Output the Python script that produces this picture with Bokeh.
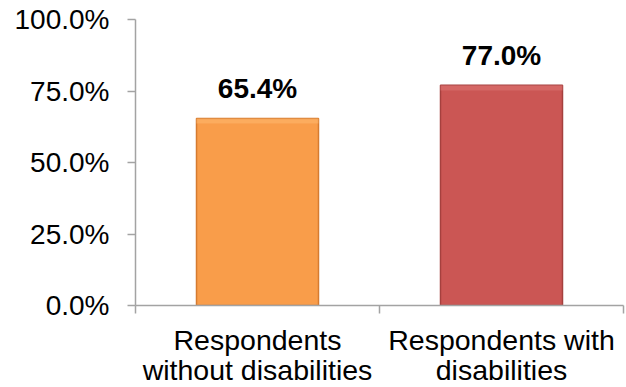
from bokeh.plotting import figure
from bokeh.models import Range1d, FixedTicker, NumeralTickFormatter, ColumnDataSource, LinearAxis
from bokeh.core.properties import value
from bokeh.embed import file_html
from bokeh.resources import INLINE

# Share of respondents, by group
categories = ["Respondents\nwithout disabilities", "Respondents with\ndisabilities"]
shares = [0.654, 0.770]
share_labels = ["65.4%", "77.0%"]
y_ticks = [0.0, 0.25, 0.5, 0.75, 1.0]

fill_colors = ["#F99D4A", "#CB5654"]
edge_colors = ["#D67B30", "#A5403E"]
light_colors = ["#FDB56C", "#DC7371"]

FONT = "Liberation Sans"
GRID = "#A3A3A3"

xs = [i + 0.5 for i in range(len(categories))]
bar_w = 0.5
label_lines = [c.split("\n") for c in categories]

src = ColumnDataSource(dict(
    x=xs, top=shares, label=share_labels,
    fill=fill_colors, edge=edge_colors, light=light_colors,
    left=[x - bar_w / 2 for x in xs], right=[x + bar_w / 2 for x in xs],
    hl_bottom=[s - 0.018 for s in shares],
))

p = figure(frame_width=488, frame_height=286, output_backend="svg", toolbar_location=None,
           x_range=Range1d(0, len(categories)), y_range=Range1d(0, 1),
           min_border_left=135, min_border_right=3, min_border_top=19, min_border_bottom=0,
           x_axis_type=None, y_axis_type=None)
p.outline_line_color = None
p.background_fill_color = "white"
p.border_fill_color = "white"

# y axis with percentage labels
yax = LinearAxis(ticker=FixedTicker(ticks=y_ticks, minor_ticks=[]),
                 formatter=NumeralTickFormatter(format="0.0%"))
yax.axis_line_color = GRID
yax.axis_line_width = 1.5
yax.major_tick_line_color = GRID
yax.major_tick_line_width = 1.5
yax.major_tick_out = 8
yax.major_tick_in = 0
yax.major_label_standoff = 18
yax.major_label_text_font = FONT
yax.major_label_text_font_size = "28px"
yax.major_label_text_color = "black"
p.add_layout(yax, "left")

# x axis, first label line: tick marks at category boundaries
xax = LinearAxis(ticker=FixedTicker(ticks=xs, minor_ticks=list(range(len(categories) + 1))))
xax.major_label_overrides = {x: ln[0] for x, ln in zip(xs, label_lines)}
xax.axis_line_color = GRID
xax.axis_line_width = 1.5
xax.major_tick_line_color = None
xax.minor_tick_line_color = GRID
xax.minor_tick_line_width = 1.5
xax.minor_tick_out = 8
xax.minor_tick_in = 0
xax.major_label_standoff = 10
xax.major_label_text_font = FONT
xax.major_label_text_font_size = "28.5px"
xax.major_label_text_color = "black"
p.add_layout(xax, "below")

# second label line, stacked underneath
xax2 = LinearAxis(ticker=FixedTicker(ticks=xs, minor_ticks=[]))
xax2.major_label_overrides = {x: ln[1] for x, ln in zip(xs, label_lines)}
xax2.axis_line_color = None
xax2.major_tick_line_color = None
xax2.minor_tick_line_color = None
xax2.major_tick_out = 0
xax2.major_tick_in = 0
xax2.major_label_standoff = -5
xax2.major_label_text_font = FONT
xax2.major_label_text_font_size = "28.5px"
xax2.major_label_text_color = "black"
p.add_layout(xax2, "below")

p.xgrid.grid_line_color = None
p.ygrid.ticker = FixedTicker(ticks=y_ticks)
p.ygrid.grid_line_color = GRID
p.ygrid.grid_line_width = 1.5

# bars with a soft bevel look
p.vbar(x="x", top="top", bottom=0, width=bar_w, source=src,
       fill_color="fill", line_color="edge", line_width=1.5)
p.quad(left="left", right="right", bottom="hl_bottom", top="top", source=src,
       fill_color="light", fill_alpha=0.6, line_color=None)

p.text(x="x", y="top", text="label", source=src,
       text_font=value(FONT), text_font_size="28px", text_font_style="bold",
       text_align="center", text_baseline="alphabetic", y_offset=-30,
       text_color="black")

open("out.html", "w").write(file_html(p, INLINE))
